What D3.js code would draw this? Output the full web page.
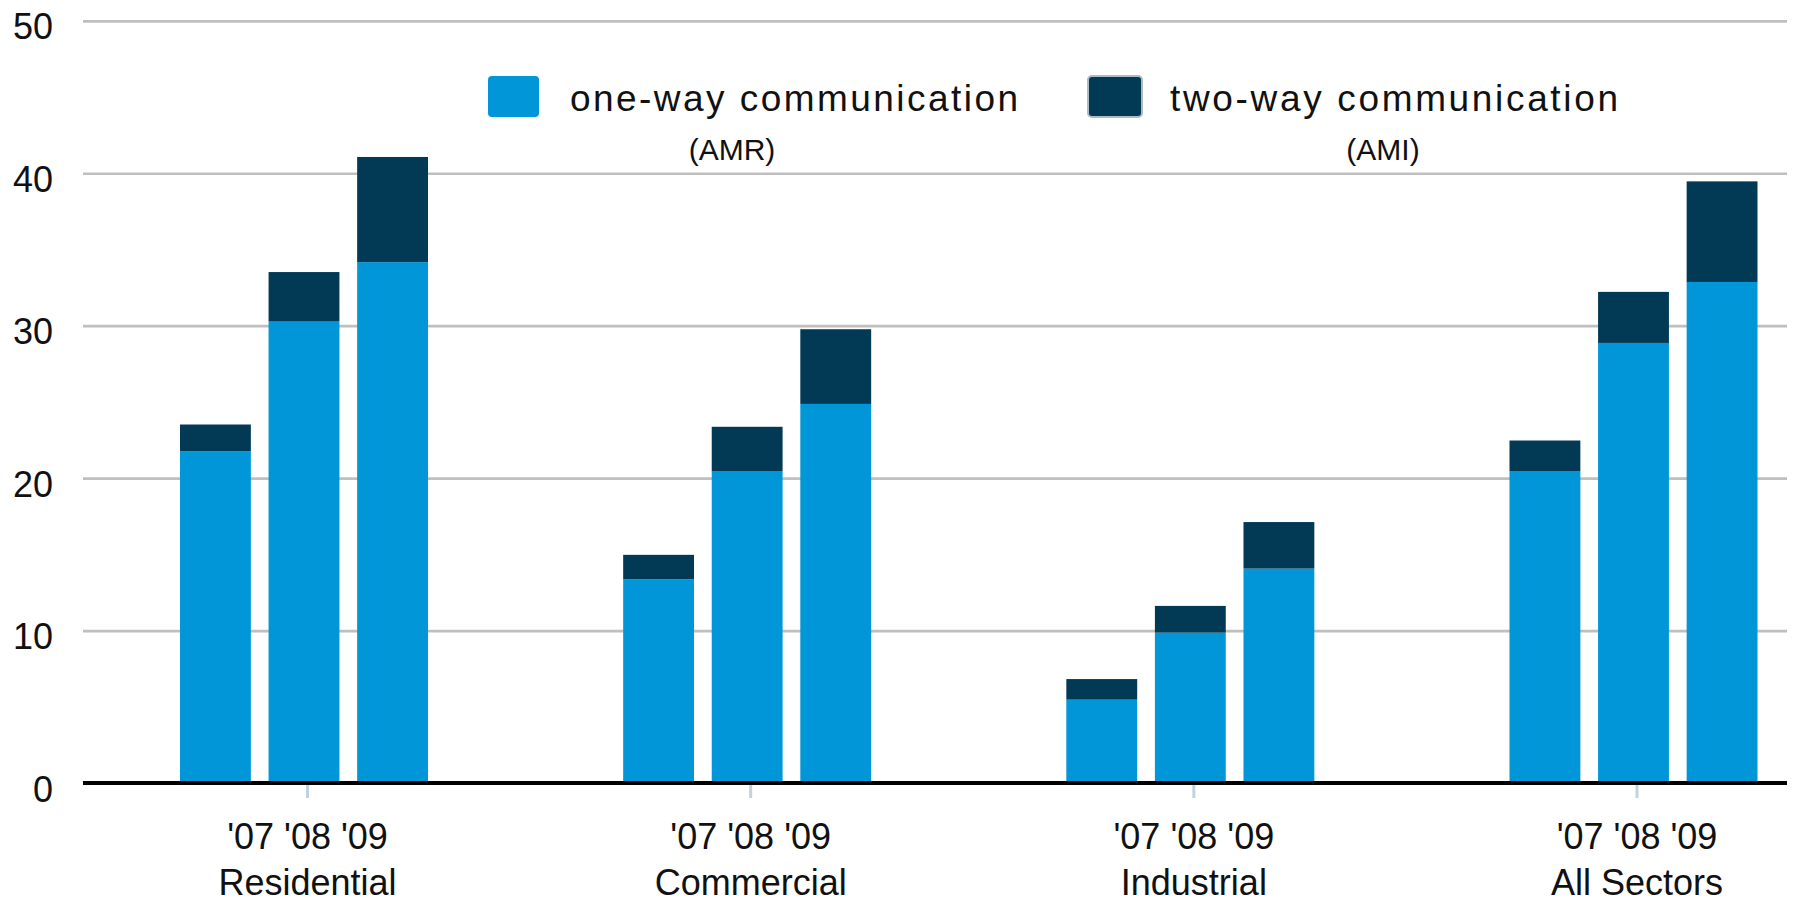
<!DOCTYPE html>
<html>
<head>
<meta charset="utf-8">
<script src="https://cdnjs.cloudflare.com/ajax/libs/d3/7.8.5/d3.min.js"></script>
<style>
    body { margin: 0; background: #fff; }
    svg text { font-family: "Liberation Sans", Arial, sans-serif; fill: #111; }
</style>
</head>
<body>
<div id="chart"></div>
<script>
// chart data
var categories = ["Residential", "Commercial", "Industrial", "All Sectors"];
var years = ["'07", "'08", "'09"];
var oneWay = [
    [21.8, 30.3, 34.2],
    [13.4, 20.5, 24.9],
    [5.5, 9.9, 14.1],
    [20.5, 28.9, 32.9]
];
var twoWay = [
    [1.75, 3.25, 6.9],
    [1.6, 2.9, 4.9],
    [1.35, 1.75, 3.05],
    [2.0, 3.35, 6.6]
];
var yTicks = [0, 10, 20, 30, 40, 50];
var seriesNames = ["one-way communication", "two-way communication"];
var seriesNotes = ["(AMR)", "(AMI)"];

var width = 1798, height = 898;
var plotLeft = 83, plotRight = 1787;

var svg = d3.select("#chart").append("svg")
    .attr("width", width)
    .attr("height", height);

var yScale = d3.scaleLinear().domain([0, 50]).range([783.5, 21.3]);

var xCat = d3.scalePoint()
    .domain(categories)
    .range([307, 1636.5]);

var xYear = d3.scaleBand()
    .domain(years)
    .range([-127, 121])
    .paddingInner(0.2);

var color = d3.scaleOrdinal()
    .domain(["one", "two"])
    .range(["#0096d7", "#023a56"]);

// grid lines
svg.append("g").selectAll("line")
    .data(yTicks.filter(function(d){ return d > 0; }))
    .enter().append("line")
    .attr("x1", plotLeft)
    .attr("x2", plotRight)
    .attr("y1", function(d){ return yScale(d); })
    .attr("y2", function(d){ return yScale(d); })
    .attr("stroke", "#bfbfbf")
    .attr("stroke-width", 2.7);

// y labels
svg.append("g").selectAll("text")
    .data(yTicks)
    .enter().append("text")
    .attr("x", 53)
    .attr("y", function(d){ return yScale(d) + 18; })
    .attr("text-anchor", "end")
    .style("font-size", "36px")
    .text(function(d){ return d; });

// flatten rows for stacking
var rows = [];
categories.forEach(function(c, i){
    years.forEach(function(y, j){
        rows.push({cat: c, year: y, one: oneWay[i][j], two: twoWay[i][j]});
    });
});

var stack = d3.stack().keys(["one", "two"]);
var layers = stack(rows);

svg.append("g").selectAll("g")
    .data(layers)
    .enter().append("g")
    .attr("fill", function(d){ return color(d.key); })
    .selectAll("rect")
    .data(function(d){ return d; })
    .enter().append("rect")
    .attr("x", function(d){ return xCat(d.data.cat) + xYear(d.data.year); })
    .attr("width", xYear.bandwidth())
    .attr("y", function(d){ return yScale(d[1]); })
    .attr("height", function(d){ return yScale(d[0]) - yScale(d[1]); });

// baseline
svg.append("line")
    .attr("x1", plotLeft)
    .attr("x2", plotRight)
    .attr("y1", yScale(0) - 0.5)
    .attr("y2", yScale(0) - 0.5)
    .attr("stroke", "#000")
    .attr("stroke-width", 4);

// x axis ticks + labels
var xAxis = d3.axisBottom(xCat)
    .tickSize(13)
    .tickFormat(function(){ return years.join(" "); });

var gX = svg.append("g")
    .attr("transform", "translate(0,785)")
    .call(xAxis);

gX.select(".domain").remove();
gX.selectAll(".tick line")
    .attr("stroke", "#c3d0dd")
    .attr("stroke-width", 3);
gX.selectAll(".tick text")
    .attr("y", 64)
    .attr("dy", 0)
    .attr("font-family", null)
    .attr("font-size", null)
    .style("font-size", "36px")
    .attr("fill", null);

gX.selectAll(".tick")
    .append("text")
    .attr("y", 110)
    .attr("text-anchor", "middle")
    .style("font-size", "36px")
    .text(function(d){ return d; });

// legend
var legendX = [488, 1088];
var legend = svg.selectAll(".legend")
    .data(seriesNames)
    .enter().append("g")
    .attr("class", "legend")
    .attr("transform", function(d, i){ return "translate(" + legendX[i] + ",0)"; });

legend.append("rect")
    .attr("x", 0)
    .attr("y", 76)
    .attr("width", function(d, i){ return i ? 54 : 51; })
    .attr("height", 41)
    .attr("rx", 4)
    .attr("fill", function(d, i){ return color.range()[i]; })
    .attr("stroke", function(d, i){ return i ? "#a9bcc8" : "none"; })
    .attr("stroke-width", 2);

legend.append("text")
    .attr("x", function(d, i){ return i ? 82 : 82; })
    .attr("y", 111)
    .attr("textLength", 448)
    .attr("lengthAdjust", "spacing")
    .style("font-size", "37px")
    .text(function(d){ return d; });

legend.append("text")
    .attr("x", function(d, i){ return i ? 295 : 244; })
    .attr("y", 160)
    .attr("text-anchor", "middle")
    .style("font-size", "30px")
    .text(function(d, i){ return seriesNotes[i]; });
</script>
</body>
</html>
